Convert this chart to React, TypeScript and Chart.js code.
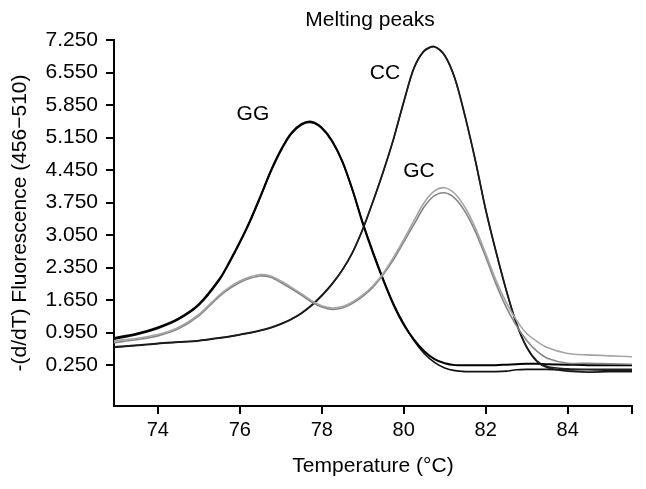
import React, { useEffect, useRef } from "react";
import { Chart, registerables } from "chart.js";

Chart.register(...registerables);

// Temperatures (°C) at which the curves were read
const temps = [72.9, 73.5, 74, 74.5, 75, 75.5, 75.75, 76, 76.25, 76.5, 76.75, 77, 77.25, 77.5, 77.75, 78, 78.25, 78.5, 78.75, 79, 79.25, 79.5, 79.75, 80, 80.25, 80.5, 80.75, 81, 81.25, 81.5, 81.75, 82, 82.25, 82.5, 82.75, 83, 83.25, 83.5, 84, 84.5, 85, 85.6];

const ggA = [0.83, 0.93, 1.06, 1.25, 1.56, 2.1, 2.48, 2.9, 3.36, 3.88, 4.42, 4.88, 5.24, 5.44, 5.49, 5.36, 5.08, 4.64, 4.02, 3.3, 2.66, 2.08, 1.55, 1.12, 0.8, 0.55, 0.38, 0.29, 0.25, 0.25, 0.25, 0.25, 0.25, 0.26, 0.27, 0.28, 0.28, 0.27, 0.26, 0.25, 0.25, 0.25];
const ggB = [0.8, 0.91, 1.04, 1.23, 1.54, 2.08, 2.46, 2.88, 3.34, 3.86, 4.4, 4.86, 5.22, 5.42, 5.47, 5.35, 5.07, 4.63, 4.02, 3.32, 2.69, 2.1, 1.57, 1.14, 0.78, 0.5, 0.31, 0.19, 0.13, 0.11, 0.11, 0.11, 0.11, 0.12, 0.15, 0.16, 0.16, 0.16, 0.15, 0.15, 0.14, 0.14];
const ccA = [0.64, 0.68, 0.72, 0.75, 0.78, 0.84, 0.87, 0.91, 0.95, 1.0, 1.06, 1.14, 1.24, 1.37, 1.54, 1.75, 2.0, 2.3, 2.68, 3.18, 3.78, 4.42, 5.12, 5.92, 6.65, 7.02, 7.11, 6.92, 6.42, 5.6, 4.65, 3.6, 2.7, 1.87, 1.15, 0.64, 0.33, 0.2, 0.12, 0.1, 0.11, 0.11];
const ccB = [0.63, 0.67, 0.71, 0.74, 0.77, 0.83, 0.86, 0.9, 0.94, 0.99, 1.05, 1.13, 1.23, 1.36, 1.53, 1.74, 1.99, 2.29, 2.67, 3.17, 3.77, 4.41, 5.11, 5.91, 6.64, 7.01, 7.1, 6.91, 6.41, 5.59, 4.64, 3.59, 2.69, 1.86, 1.14, 0.63, 0.34, 0.22, 0.17, 0.16, 0.16, 0.16];
const gcUpper = [0.77, 0.83, 0.91, 1.06, 1.34, 1.76, 1.93, 2.06, 2.15, 2.2, 2.17, 2.06, 1.93, 1.79, 1.64, 1.53, 1.48, 1.51, 1.61, 1.76, 1.96, 2.23, 2.57, 2.95, 3.36, 3.75, 4.0, 4.07, 3.94, 3.64, 3.2, 2.65, 2.08, 1.6, 1.22, 0.93, 0.76, 0.63, 0.5, 0.47, 0.45, 0.43];
const gcLower = [0.73, 0.8, 0.88, 1.03, 1.31, 1.73, 1.9, 2.03, 2.12, 2.17, 2.14, 2.03, 1.9, 1.76, 1.61, 1.5, 1.45, 1.48, 1.58, 1.73, 1.93, 2.2, 2.52, 2.9, 3.28, 3.66, 3.9, 3.96, 3.84, 3.55, 3.12, 2.58, 2.0, 1.5, 1.1, 0.78, 0.55, 0.4, 0.29, 0.29, 0.28, 0.27];

const xTicks = [74, 76, 78, 80, 82, 84];
const yTicks = [0.25, 0.95, 1.65, 2.35, 3.05, 3.75, 4.45, 5.15, 5.85, 6.55, 7.25];
const xRange = [72.93, 85.57];
const yRange = [-0.63, 7.25];

const labelTexts = ["GG", "CC", "GC"];
const labelTemps = [76.32, 79.54, 80.37];
const labelValues = [5.66, 6.54, 4.43];

const FONT = "'Liberation Sans', Arial, Helvetica, sans-serif";

export default function App() {
  const ref = useRef<HTMLCanvasElement | null>(null);

  useEffect(() => {
    if (!ref.current) return;
    const mk = (vals: number[]) => temps.map((t, i) => ({ x: t, y: vals[i] }));

    const textPlugin = {
      id: "texts",
      afterDatasetsDraw(chart: any) {
        const { ctx, chartArea, scales } = chart;
        ctx.save();
        ctx.fillStyle = "#000";
        ctx.font = `21px ${FONT}`;
        ctx.textAlign = "center";
        ctx.textBaseline = "middle";
        labelTexts.forEach((t, i) => {
          ctx.fillText(t, scales.x.getPixelForValue(labelTemps[i]), scales.y.getPixelForValue(labelValues[i]));
        });
        ctx.font = `21px ${FONT}`;
        ctx.fillText("Melting peaks", (chartArea.left + chartArea.right) / 2 - 3, 20);
        ctx.restore();
      },
    };

    const ds = (label: string, vals: number[], color: string, w: number) => ({
      label,
      data: mk(vals),
      borderColor: color,
      borderWidth: w,
      pointRadius: 0,
      fill: false,
      tension: 0.3,
    });

    const chart = new Chart(ref.current, {
      type: "line",
      data: {
        datasets: [
          ds("GC a", gcUpper, "#a4a4a4", 1.6),
          ds("GC b", gcLower, "#858585", 1.6),
          ds("CC a", ccA, "#1a1a1a", 1.7),
          ds("CC b", ccB, "#222", 1.5),
          ds("GG a", ggA, "#000", 2),
          ds("GG b", ggB, "#111", 1.7),
        ],
      },
      options: {
        animation: false,
        responsive: false,
        devicePixelRatio: 1,
        layout: { padding: { left: 0, top: 40, right: 14, bottom: 0 } },
        plugins: { legend: { display: false }, tooltip: { enabled: false }, title: { display: false } },
        scales: {
          x: {
            type: "linear",
            min: xRange[0],
            max: xRange[1],
            afterBuildTicks: (s: any) => {
              s.ticks = [...xTicks, xRange[1]].map((v) => ({ value: v }));
            },
            afterFit: (s: any) => {
              s.height = 83;
            },
            ticks: {
              autoSkip: false,
              maxRotation: 0,
              padding: 4,
              color: "#000",
              font: { size: 20, family: FONT },
              callback: (v: any) => (xTicks.includes(Number(v)) ? String(v) : ""),
            },
            grid: { drawOnChartArea: false, drawTicks: true, tickLength: 8, color: "#000", lineWidth: 2 },
            border: { display: true, color: "#000", width: 2 },
            title: {
              display: true,
              text: "Temperature (°C)",
              color: "#000",
              font: { size: 21, family: FONT },
              padding: { top: 0, bottom: 10 },
            },
          },
          y: {
            type: "linear",
            min: yRange[0],
            max: yRange[1],
            afterBuildTicks: (s: any) => {
              s.ticks = yTicks.map((v) => ({ value: v }));
            },
            afterFit: (s: any) => {
              s.width = 114;
            },
            ticks: {
              autoSkip: false,
              padding: 8,
              color: "#000",
              font: { size: 21, family: FONT },
              callback: (v: any) => Number(v).toFixed(3),
            },
            grid: { drawOnChartArea: false, drawTicks: true, tickLength: 8, color: "#000", lineWidth: 2 },
            border: { display: true, color: "#000", width: 2 },
            title: {
              display: true,
              text: "-(d/dT) Fluorescence (456\u2212510)",
              color: "#000",
              font: { size: 21, family: FONT },
              padding: { top: 8, bottom: 0 },
            },
          },
        },
      },
      plugins: [textPlugin],
    });
    return () => chart.destroy();
  }, []);

  return (
    <div style={{ position: "fixed", left: 0, top: 0, width: 646, height: 489, background: "#fff" }}>
      <canvas ref={ref} width={646} height={489} />
    </div>
  );
}
